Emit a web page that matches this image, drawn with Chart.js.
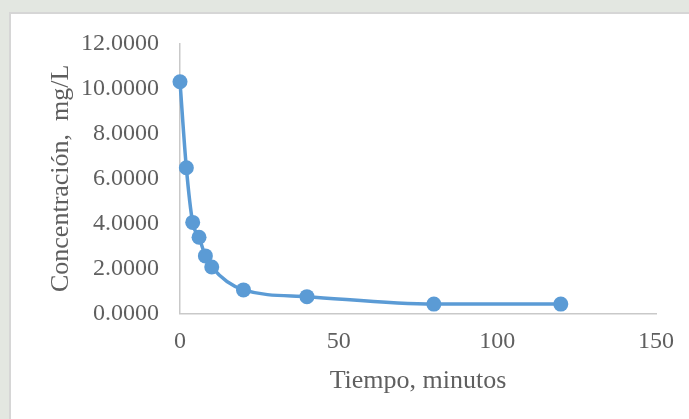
<!DOCTYPE html>
<html>
<head>
<meta charset="utf-8">
<script src="https://cdn.jsdelivr.net/npm/chart.js@4.4.1/dist/chart.umd.min.js"></script>
<style>
  html, body { margin: 0; padding: 0; width: 689px; height: 419px; overflow: hidden; background: #e3e7e1; }
  #box { position: absolute; left: 9px; top: 12px; width: 690px; height: 420px; background: #ffffff; border-left: 2px solid #d6d6d6; border-top: 2px solid #d6d6d6; }
  #wrap { position: absolute; left: 0; top: 0; width: 689px; height: 419px; }
</style>
</head>
<body>
<div id="box"></div>
<div id="wrap"><canvas id="c" width="689" height="419"></canvas></div>
<script>
const tiempo = [0, 2, 4, 6, 8, 10, 20, 40, 80, 120];
const concentracion = [10.29, 6.47, 4.04, 3.38, 2.55, 2.06, 1.04, 0.74, 0.41, 0.41];
const xTicks = [0, 50, 100, 150];
const yTicks = [0, 2, 4, 6, 8, 10, 12];
const xTitle = 'Tiempo, minutos';
const yTitle = 'Concentración,  mg/L';

const points = tiempo.map((t, i) => ({ x: t, y: concentracion[i] }));
const textColor = '#5f5f5f';
const axisColor = '#c9c9c9';
const serif = "'Liberation Serif', 'Times New Roman', serif";

new Chart(document.getElementById('c'), {
  type: 'scatter',
  data: {
    datasets: [{
      data: points,
      showLine: true,
      clip: false,
      borderColor: '#5b9bd5',
      backgroundColor: '#5b9bd5',
      borderWidth: 3.5,
      pointRadius: 7.5,
      pointHoverRadius: 7.5,
      pointBorderWidth: 0,
      cubicInterpolationMode: 'monotone'
    }]
  },
  options: {
    responsive: false,
    animation: false,
    events: [],
    layout: { padding: { left: 46, right: 33, top: 43.3, bottom: 0 } },
    plugins: { legend: { display: false }, tooltip: { enabled: false } },
    scales: {
      x: {
        type: 'linear',
        min: xTicks[0],
        max: xTicks[xTicks.length - 1],
        afterBuildTicks: s => { s.ticks = xTicks.map(v => ({ value: v })); },
        afterFit: s => { s.height = 105.7; },
        grid: { display: false, drawTicks: false },
        border: { display: true, color: axisColor, width: 1.5 },
        ticks: { color: textColor, padding: 14, font: { family: serif, size: 24 }, maxRotation: 0 },
        title: { display: true, text: xTitle, color: textColor, font: { family: serif, size: 26 }, padding: { top: 0, bottom: 22.4 } }
      },
      y: {
        type: 'linear',
        min: yTicks[0],
        max: yTicks[yTicks.length - 1],
        afterBuildTicks: s => { s.ticks = yTicks.map(v => ({ value: v })); },
        afterFit: s => { s.width = 134; },
        grid: { display: false, drawTicks: false },
        border: { display: true, color: axisColor, width: 1.5 },
        ticks: { color: textColor, padding: 21, font: { family: serif, size: 24 }, callback: v => Number(v).toFixed(4) },
        title: { display: true, text: yTitle, color: textColor, font: { family: serif, size: 26 }, padding: { top: 0, bottom: 0 } }
      }
    }
  }
});
</script>
</body>
</html>
